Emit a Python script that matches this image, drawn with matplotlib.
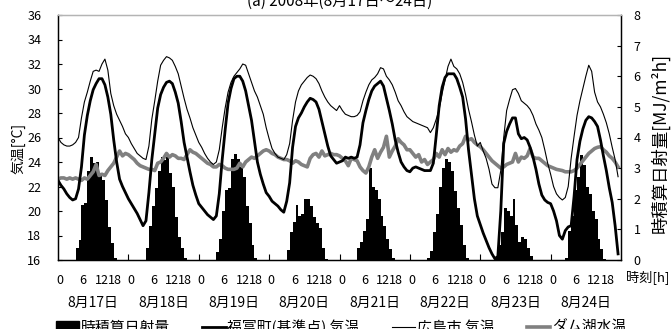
import numpy as np
import matplotlib
matplotlib.use("Agg")
import matplotlib.pyplot as plt
from matplotlib.patches import Patch
from matplotlib.lines import Line2D

plt.rcParams['font.family'] = ['Noto Sans CJK JP', 'DejaVu Sans']

dates = ["8月17日", "8月18日", "8月19日", "8月20日", "8月21日", "8月22日", "8月23日", "8月24日"]
hour_labels = ["0", "6", "12", "18"]

# hourly solar radiation [MJ/m2h], 24 values per day
radiation = [
    0, 0, 0, 0, 0, 0, .38, .65, 1.79, 1.85, 2.9, 3.37, 3.16, 3.2, 2.85, 2.6, 1.96, 1.09, .55, .05, 0, 0, 0, 0,
    0, 0, 0, 0, 0, 0, .38, 1.1, 1.75, 2.35, 2.9, 3.37, 3.25, 3.35, 2.85, 2.4, 1.4, .75, .38, .05, 0, 0, 0, 0,
    0, 0, 0, 0, 0, 0, .27, .7, 1.6, 2.3, 2.35, 3.3, 3.45, 3.3, 3.05, 2.7, 1.75, 1.2, .5, .05, 0, 0, 0, 0,
    0, 0, 0, 0, 0, 0, .33, .92, 1.25, 1.8, 1.45, 1.5, 2.0, 2.0, 1.75, 1.4, 1.2, 1.05, .4, .03, 0, 0, 0, 0,
    0, 0, 0, 0, 0, 0, .38, .6, .95, 1.35, 3.0, 2.4, 2.3, 2.0, 1.45, 1.1, .7, .35, .05, 0, 0, 0, 0, 0,
    0, 0, 0, 0, 0, 0, .05, .3, .9, 1.5, 2.4, 3.0, 3.3, 3.2, 2.9, 2.25, 1.7, 1.15, .5, .08, 0, 0, 0, 0,
    0, 0, 0, 0, 0, .05, .5, .9, 1.7, 1.6, 1.45, 2.0, 1.15, .6, .75, .7, .4, .12, 0, 0, 0, 0, 0, 0,
    0, 0, 0, 0, 0, .05, .95, 1.45, 2.3, 2.7, 3.43, 3.1, 2.4, 2.15, 1.6, 1.35, .7, .35, .03, 0, 0, 0, 0, 0,
]

# 福富町(基準点) 気温 [°C], hourly
fukutomi = [
    22.5, 22.1, 21.8, 21.4, 21.1, 20.9, 21.0, 21.8, 23.6, 26.2, 27.8, 29.0, 29.9, 30.4, 30.8, 30.8, 30.3, 29.3, 27.9, 25.8, 24.0, 22.6, 22.0, 21.5,
    21.0, 20.6, 20.2, 19.8, 19.3, 18.8, 19.2, 21.5, 24.2, 26.3, 28.4, 29.5, 30.1, 30.5, 30.6, 30.4, 29.7, 28.8, 27.3, 25.6, 24.4, 23.2, 22.1, 21.3,
    20.6, 20.3, 20.0, 19.7, 19.5, 19.3, 19.6, 21.4, 24.2, 26.6, 28.8, 30.0, 30.8, 31.0, 31.0, 30.6, 29.8, 28.6, 27.4, 25.7, 24.0, 23.0, 22.2, 21.5,
    21.2, 20.8, 20.6, 20.4, 20.1, 19.9, 20.8, 22.3, 25.2, 26.9, 27.6, 28.0, 28.5, 28.9, 29.2, 29.1, 28.9, 28.3, 27.3, 26.3, 25.3, 24.5, 24.2, 23.9,
    24.0, 24.1, 24.4, 24.3, 24.4, 24.3, 24.4, 25.4, 27.2, 28.2, 29.1, 29.8, 30.2, 30.4, 30.6, 30.2, 29.2, 28.2, 27.1, 25.8, 24.8, 24.0, 23.6, 23.3,
    23.2, 23.5, 23.6, 23.5, 23.4, 23.3, 23.3, 23.3, 23.9, 26.2, 28.6, 30.1, 30.9, 31.2, 31.2, 31.2, 30.8, 30.1, 29.3, 27.5, 25.0, 23.0, 21.0, 19.6,
    18.9, 18.2, 17.6, 17.0, 16.5, 16.1, 16.3, 20.0, 25.5, 26.5, 27.1, 27.6, 27.6, 26.3, 25.9, 26.0, 25.8, 25.2, 24.4, 23.4, 22.2, 21.3, 20.9, 20.7,
    20.6, 20.0, 19.2, 18.0, 17.7, 18.4, 18.7, 18.8, 21.2, 24.2, 25.7, 26.7, 27.4, 27.7, 27.6, 27.3, 26.9, 25.8, 24.5, 23.3, 21.9, 20.7, 18.8, 16.5,
]

# 広島市 気温 [°C], hourly
hiroshima = [
    26.0, 25.6, 25.4, 25.3, 25.3, 25.4, 25.6, 26.0, 27.6, 28.9, 29.7, 30.6, 31.4, 31.5, 31.4, 32.0, 32.4, 31.5, 29.6, 28.6, 27.9, 27.4, 26.9, 26.3,
    26.0, 25.5, 25.1, 24.7, 24.5, 24.3, 24.2, 25.3, 27.5, 29.0, 30.6, 31.9, 32.3, 32.6, 32.5, 32.3, 31.8, 31.2, 30.2, 29.2, 28.3, 27.6, 26.8, 26.2,
    25.6, 25.2, 24.7, 24.3, 24.0, 23.8, 24.0, 25.0, 26.8, 28.4, 29.7, 30.5, 31.0, 31.3, 31.6, 32.0, 31.9, 31.2, 30.5, 29.8, 29.3, 28.6, 27.9, 26.8,
    25.9, 25.1, 24.7, 24.4, 24.3, 24.2, 24.6, 25.5, 27.4, 28.9, 29.8, 30.3, 30.6, 30.9, 31.1, 31.0, 30.8, 30.4, 29.8, 29.3, 28.9, 28.6, 28.4, 28.2,
    28.6, 28.2, 27.9, 27.8, 27.7, 27.7, 27.8, 28.1, 29.0, 29.7, 30.3, 30.7, 30.9, 31.2, 31.7, 31.6, 31.0, 30.7, 30.3, 29.7, 29.0, 28.6, 28.1, 27.7,
    27.5, 27.3, 27.2, 27.1, 27.0, 26.9, 26.8, 26.4, 26.8, 27.5, 28.3, 29.6, 30.7, 31.8, 32.4, 31.8, 31.6, 31.2, 30.5, 29.5, 28.3, 27.3, 26.2, 25.3,
    25.6, 24.9, 24.3, 23.4, 22.2, 21.9, 21.9, 23.3, 26.0, 28.2, 29.1, 29.9, 30.0, 29.6, 29.0, 28.8, 28.6, 28.3, 27.8, 27.1, 26.6, 26.0, 25.0, 23.9,
    23.0, 22.0, 21.4, 21.1, 20.9, 21.1, 22.0, 24.3, 26.1, 27.8, 29.0, 30.0, 31.0, 31.9, 31.4, 29.7, 28.9, 28.5, 27.9, 27.2, 26.3, 25.2, 24.2, 22.8,
]

# ダム湖水温 [°C], hourly
dam = [
    22.6, 22.7, 22.7, 22.6, 22.7, 22.6, 22.7, 22.6, 22.5, 22.7, 22.6, 22.9, 23.2, 23.8, 22.9, 23.0, 22.9, 23.3, 23.6, 23.9, 24.4, 24.9, 24.5, 24.7,
    24.6, 24.4, 24.2, 23.9, 23.7, 23.6, 23.5, 23.4, 23.4, 23.3, 23.9, 24.0, 24.3, 24.7, 24.4, 24.6, 24.5, 24.3, 24.3, 24.2, 24.6, 25.0, 24.8, 24.7,
    24.5, 24.3, 24.1, 23.9, 23.8, 23.6, 23.6, 23.8, 23.7, 23.5, 23.4, 23.4, 23.4, 23.5, 23.9, 23.6, 24.0, 24.2, 24.4, 24.3, 24.5, 24.7, 24.9, 25.0,
    24.9, 24.7, 24.6, 24.4, 24.3, 24.2, 24.2, 24.1, 23.9, 24.1, 24.0, 23.8, 23.7, 23.6, 24.3, 24.6, 24.7, 24.4, 24.9, 24.5, 24.6, 24.7, 24.6, 24.6,
    24.5, 24.3, 24.1, 23.7, 24.3, 24.2, 24.1, 23.6, 23.3, 23.1, 23.6, 24.4, 25.0, 24.3, 24.8, 25.2, 26.1, 24.4, 24.9, 25.3, 25.9, 25.6, 25.4, 25.0,
    25.0, 24.7, 24.4, 24.6, 24.0, 24.2, 23.8, 24.0, 24.2, 24.7, 24.4, 25.0, 24.6, 25.1, 24.8, 25.0, 24.9, 25.3, 25.5, 26.1, 25.8, 25.9, 25.6, 25.4,
    25.25, 25.0, 24.7, 24.4, 24.1, 23.9, 23.7, 23.5, 23.6, 23.8, 23.9, 24.0, 24.7, 24.0, 24.4, 24.3, 24.5, 25.1, 24.4, 24.3, 24.3, 24.1, 23.9, 23.7,
    23.6, 23.5, 23.4, 23.35, 23.3, 23.2, 23.2, 23.2, 23.3, 23.5, 23.8, 24.1, 24.4, 24.7, 24.9, 25.1, 25.2, 25.25, 25.0, 24.8, 24.5, 24.3, 24.0, 23.6,
]

hours = np.arange(len(fukutomi))
edges = np.arange(len(radiation) + 1)
n_days = len(dates)

W, H = 672, 329
fig = plt.figure(figsize=(W / 100, H / 100), dpi=100)
L, R, T, B = 58, 621, 15, 260
ax2 = fig.add_axes([L / W, 1 - B / H, (R - L) / W, (B - T) / H])
ax = fig.add_axes([L / W, 1 - B / H, (R - L) / W, (B - T) / H], sharex=ax2)
ax.set_zorder(ax2.get_zorder() + 1)
ax.patch.set_visible(False)

# hourly bars drawn as one filled step histogram (no seams between adjacent bars)
ax2.stairs(radiation, edges, fill=True, color='black', baseline=0)
ax.plot(hours, dam, color='#808080', lw=2.6, solid_joinstyle='round')
ax.plot(hours, hiroshima, color='black', lw=0.8)
ax.plot(hours, fukutomi, color='black', lw=2.0)

ax.set_xlim(0, 24 * n_days)
ax.set_ylim(16, 36)
ax2.set_ylim(0, 8)
ax.set_yticks(np.arange(16, 37, 2))
ax2.set_yticks(np.arange(0, 9, 1))

ax2.yaxis.tick_right()
ax.yaxis.tick_left()

fs = 9
ax.tick_params(axis='y', direction='in', length=3, width=0.8, pad=12, labelsize=fs)
ax2.tick_params(axis='y', direction='in', length=3, width=0.8, pad=9, labelsize=fs)

# hour labels under each day
offsets = [0.7, 8.6, 14.9, 19.4]
xt, xl = [], []
for d in range(n_days):
    for o, lab in zip(offsets, hour_labels):
        xt.append(d * 24 + o)
        xl.append(lab)
ax2.set_xticks(xt)
ax2.set_xticklabels(xl)
ax2.set_xticks(np.arange(24, 24 * n_days, 24), minor=True)
ax2.tick_params(axis='x', which='major', length=0, pad=10, labelsize=fs)
ax2.tick_params(axis='x', which='minor', direction='in', length=4, width=0.8)
ax.tick_params(axis='x', which='both', length=0, labelbottom=False)

for a in (ax, ax2):
    for s in ('left', 'right', 'bottom'):
        a.spines[s].set_color('black')
        a.spines[s].set_linewidth(0.9)
    a.spines['top'].set_color('#b4b4b4')
    a.spines['top'].set_linewidth(0.9)

# date labels
trans = ax2.get_xaxis_transform()
for d, lab in enumerate(dates):
    ax2.text(d * 24 + 12, -0.175, lab, transform=trans, ha='center', va='center', fontsize=10)
fig.text(669 / W, 1 - 277 / H, "時刻[h]", ha='right', va='center', fontsize=9.5)

fig.text(18 / W, 1 - 148 / H, "気温[°C]", rotation=90, ha='center', va='center', fontsize=10)
fig.text(660 / W, 1 - 143 / H, "時積算日射量[MJ/m²h]", rotation=90, ha='center', va='center', fontsize=12.5)

fig.text(0.506, 0.996, "(a) 2008年(8月17日～24日)", ha='center', va='center', fontsize=11)

handles = [
    Patch(facecolor='black', edgecolor='black'),
    Line2D([], [], color='black', lw=2.0),
    Line2D([], [], color='black', lw=0.8),
    Line2D([], [], color='#808080', lw=2.6),
]
labels = ["時積算日射量", "福富町(基準点) 気温", "広島市 気温", "ダム湖水温"]
fig.legend(handles, labels, loc='center', bbox_to_anchor=(0.5074, 0.006), ncol=4, frameon=False,
           fontsize=10.7, handlelength=1.6, handletextpad=0.1, columnspacing=2.15, borderpad=0)

fig.savefig("out.png", dpi=100)
